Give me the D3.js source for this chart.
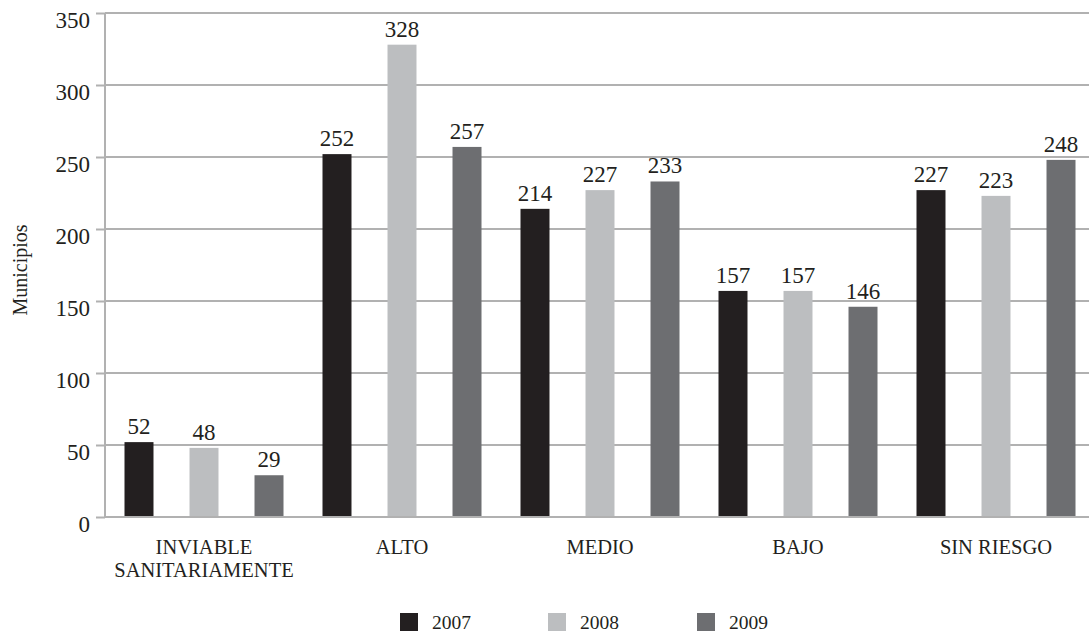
<!DOCTYPE html>
<html>
<head>
<meta charset="utf-8">
<script src="https://cdn.jsdelivr.net/npm/d3@7"></script>
<style>
  html, body { margin: 0; padding: 0; background: #fff; }
  svg text { font-family: "Liberation Serif", "DejaVu Serif", serif; fill: #231f20; }
</style>
</head>
<body>
<svg id="chart" width="1089" height="632"></svg>
<script>
const categories = ["INVIABLE\nSANITARIAMENTE", "ALTO", "MEDIO", "BAJO", "SIN RIESGO"];
const series = ["2007", "2008", "2009"];
const values2007 = [52, 252, 214, 157, 227];
const values2008 = [48, 328, 227, 157, 223];
const values2009 = [29, 257, 233, 146, 248];
const yTicks = [0, 50, 100, 150, 200, 250, 300, 350];
const colors = ["#231f20", "#bcbec0", "#6d6e71"];
const yTitle = "Municipios";

(function () {
const seriesValues = [values2007, values2008, values2009];
const svg = d3.select("#chart");
const W = 1089;
const mLeft = 105, mTop = 13, mBottom = 517;

const x = d3.scaleBand().domain(categories).range([mLeft, mLeft + 5 * 198]).paddingInner(0).paddingOuter(0);
const xi = d3.scaleBand().domain(series).range([0, x.bandwidth()]).paddingInner(0.554).paddingOuter(0.3);
const y = d3.scaleLinear().domain([0, 350]).range([mBottom, mTop]);

const gridColor = "#b1b1b1";

svg.append("g").selectAll("line").data(yTicks).join("line")
  .attr("x1", mLeft).attr("x2", W)
  .attr("y1", d => y(d)).attr("y2", d => y(d))
  .attr("stroke", gridColor).attr("stroke-width", 2);

const yAxis = svg.append("g").attr("transform", `translate(${mLeft},0)`)
  .call(d3.axisLeft(y).tickValues(yTicks).tickSize(9).tickPadding(6).tickFormat(d3.format("d")));
yAxis.select(".domain").attr("stroke", gridColor).attr("stroke-width", 2).attr("d", `M0,${mTop}V${mBottom}`);
yAxis.selectAll(".tick line").attr("stroke", gridColor).attr("stroke-width", 2);
yAxis.selectAll(".tick text").attr("font-size", 23).attr("dy", "0.62em").attr("fill", "#231f20")
  .attr("font-family", "Liberation Serif, DejaVu Serif, serif");

const groups = svg.append("g").selectAll("g").data(categories).join("g")
  .attr("transform", d => `translate(${x(d)},0)`);

groups.each(function(cat, ci) {
  const g = d3.select(this);
  series.forEach((s, si) => {
    const v = seriesValues[si][ci];
    g.append("rect")
      .attr("x", xi(s)).attr("width", xi.bandwidth())
      .attr("y", y(v)).attr("height", y(0) - y(v))
      .attr("fill", colors[si]);
    g.append("text")
      .attr("x", xi(s) + xi.bandwidth() / 2)
      .attr("y", y(v) - 8)
      .attr("text-anchor", "middle")
      .attr("font-size", 23)
      .text(v);
  });
});

svg.append("line").attr("x1", mLeft).attr("x2", W).attr("y1", y(0)).attr("y2", y(0))
  .attr("stroke", gridColor).attr("stroke-width", 2);

svg.append("g").selectAll("text").data(categories).join("text")
  .attr("x", d => x(d) + x.bandwidth() / 2)
  .attr("y", 554)
  .attr("text-anchor", "middle")
  .attr("font-size", 20.5)
  .each(function(d) {
    const lines = d.split("\n");
    d3.select(this).selectAll("tspan").data(lines).join("tspan")
      .attr("x", x(d) + x.bandwidth() / 2)
      .attr("dy", (l, i) => i === 0 ? 0 : 23)
      .text(l => l);
  });

svg.append("text")
  .attr("transform", `translate(27,${(mTop + mBottom) / 2 + 5}) rotate(-90)`)
  .attr("text-anchor", "middle")
  .attr("font-size", 20)
  .text(yTitle);

const legendX = [400, 548, 697];
const lg = svg.append("g").selectAll("g").data(series).join("g")
  .attr("transform", (d, i) => `translate(${legendX[i]},613)`);
lg.append("rect").attr("width", 18).attr("height", 18).attr("fill", (d, i) => colors[i]);
lg.append("text").attr("x", 32).attr("y", 16).attr("font-size", 19.5).text(d => d);
})();
</script>
</body>
</html>
